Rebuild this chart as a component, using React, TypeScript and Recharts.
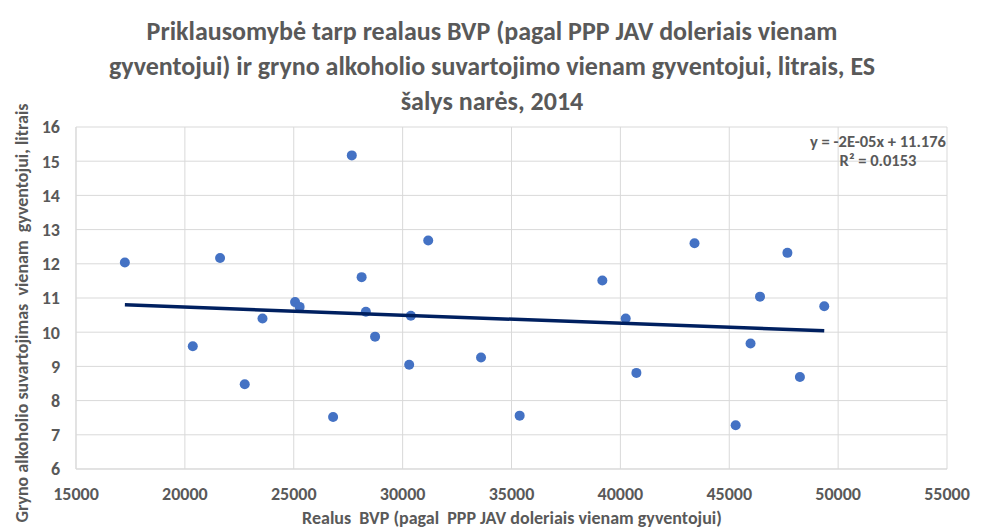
import React from "react";
import { ScatterChart, Scatter, XAxis, YAxis, CartesianGrid } from "recharts";

const gdpPerCapita = [
  17244, 21616, 27666, 31175, 28117, 25060, 25270, 23565, 28313, 30377,
  39172, 43405, 47671, 46413, 49363, 40245,
  20363, 22749, 26807, 28735, 30301, 33600,
  35375, 40736, 45978, 48245, 45295,
];
const alcoholLitres = [
  12.04, 12.17, 15.17, 12.68, 11.61, 10.88, 10.74, 10.4, 10.6, 10.48,
  11.51, 12.6, 12.32, 11.04, 10.76, 10.4,
  9.59, 8.48, 7.52, 9.87, 9.05, 9.26,
  7.56, 8.81, 9.67, 8.69, 7.28,
];
const trendX = [17244, 49363];
const trendY = [10.8, 10.04];
const xTicks = [15000, 20000, 25000, 30000, 35000, 40000, 45000, 50000, 55000];
const yTicks = [6, 7, 8, 9, 10, 11, 12, 13, 14, 15, 16];

const titleLines = [
  "Priklausomybė tarp realaus BVP (pagal PPP JAV doleriais vienam",
  "gyventojui) ir gryno alkoholio suvartojimo vienam gyventojui, litrais, ES",
  "šalys narės, 2014",
];
const xTitle = "Realus  BVP (pagal  PPP JAV doleriais vienam gyventojui)";
const yTitle = "Gryno alkoholio suvartojimas  vienam  gyventojui, litrais";
const equation = "y = -2E-05x + 11.176";
const rSquared = "R² = 0.0153";

const points = gdpPerCapita.map((x, i) => ({ x, y: alcoholLitres[i] }));
const trend = trendX.map((x, i) => ({ x, y: trendY[i] }));

const GREY = "#595959";
const FONT = "Carlito, 'Liberation Sans Narrow', 'Arial Narrow', sans-serif";

const Dot = (props: any) => (
  <circle cx={props.cx} cy={props.cy} r={5} fill="#4472C4" />
);
const NoDot = () => <g />;

export default function App() {
  return (
    <div style={{ position: "absolute", left: 0, top: 0, width: 984, height: 531, background: "#fff", overflow: "hidden" }}>
      <ScatterChart
        width={984}
        height={531}
        margin={{ top: 127, right: 37, bottom: 32, left: 0 }}
      >
        <CartesianGrid stroke="#d9d9d9" strokeWidth={1} />
        <XAxis
          type="number"
          dataKey="x"
          domain={[15000, 55000]}
          ticks={xTicks}
          interval={0}
          height={30}
          tickLine={false}
          tickMargin={12}
          axisLine={{ stroke: "#d9d9d9" }}
          tick={{ fill: GREY, fontSize: 18, fontWeight: 700, fontFamily: FONT }}
        />
        <YAxis
          type="number"
          dataKey="y"
          domain={[6, 16]}
          ticks={yTicks}
          interval={0}
          width={76}
          tickLine={false}
          tickMargin={10}
          axisLine={{ stroke: "#d9d9d9" }}
          tick={{ fill: GREY, fontSize: 18, fontWeight: 700, fontFamily: FONT }}
        />
        <Scatter data={points} shape={Dot} isAnimationActive={false} />
        <Scatter
          data={trend}
          shape={NoDot}
          line={{ stroke: "#002060", strokeWidth: 3.5 }}
          isAnimationActive={false}
        />
      </ScatterChart>
      <div
        style={{
          position: "absolute",
          left: 0,
          top: 14,
          width: 984,
          textAlign: "center",
          fontFamily: FONT,
          fontWeight: 700,
          fontSize: 26,
          lineHeight: "35px",
          color: GREY,
          whiteSpace: "pre",
        }}
      >
        {titleLines.map((l, i) => (
          <div key={i}>{l}</div>
        ))}
      </div>
      <div
        style={{
          position: "absolute",
          left: 262,
          top: 510,
          width: 500,
          textAlign: "center",
          fontFamily: FONT,
          fontWeight: 700,
          fontSize: 18,
          lineHeight: "17px",
          color: GREY,
          whiteSpace: "pre",
        }}
      >
        {xTitle}
      </div>
      <div
        style={{
          position: "absolute",
          left: 22 - 250,
          top: 313 - 11,
          width: 500,
          textAlign: "center",
          fontFamily: FONT,
          fontWeight: 700,
          fontSize: 18,
          lineHeight: "22px",
          color: GREY,
          whiteSpace: "pre",
          transform: "rotate(-90deg)",
        }}
      >
        {yTitle}
      </div>
      <div
        style={{
          position: "absolute",
          left: 780,
          top: 132,
          width: 196,
          textAlign: "center",
          fontFamily: FONT,
          fontWeight: 700,
          fontSize: 16.5,
          lineHeight: "19px",
          color: GREY,
          whiteSpace: "pre",
        }}
      >
        <div>{equation}</div>
        <div>{rSquared}</div>
      </div>
    </div>
  );
}
